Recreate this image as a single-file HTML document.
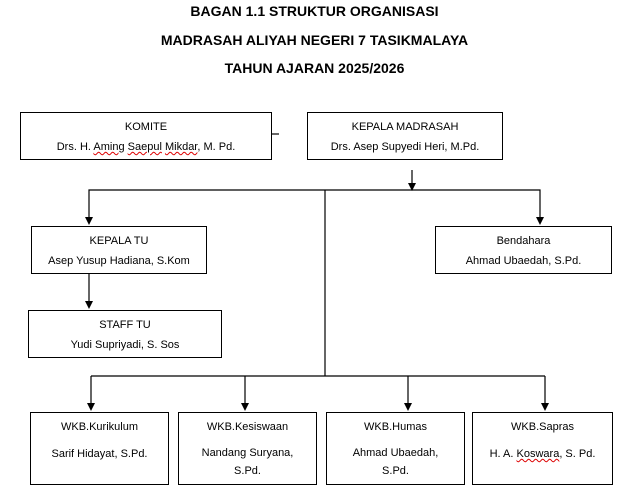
<!DOCTYPE html>
<html><head><style>
body{margin:0;width:629px;height:499px;background:#fff;position:relative;font-family:"Liberation Sans",sans-serif;overflow:hidden}
.t{position:absolute;left:0;width:629px;text-align:center;font-weight:bold;font-size:14px}
.b{position:absolute;border:1px solid #000;box-sizing:border-box;text-align:center;font-size:11px;line-height:20px;padding-top:4px}
.u{text-decoration:underline wavy #d00;text-decoration-thickness:1px}
</style></head><body>
<div class="t" style="top:3px">BAGAN 1.1 STRUKTUR ORGANISASI</div>
<div class="t" style="top:32px">MADRASAH ALIYAH NEGERI 7 TASIKMALAYA</div>
<div class="t" style="top:60px">TAHUN AJARAN 2025/2026</div>
<svg width="629" height="499" style="position:absolute;left:0;top:0">
<g stroke="#000" stroke-width="1.2" fill="none">
<line x1="272" y1="134" x2="279" y2="134"/>
<line x1="412" y1="170" x2="412" y2="184"/>
<polyline points="89,218 89,190 540,190 540,218" />
<line x1="325" y1="190" x2="325" y2="376"/>
<line x1="89" y1="274" x2="89" y2="302"/>
<polyline points="91,376 545,376"/>
<line x1="91" y1="376" x2="91" y2="404"/>
<line x1="245" y1="376" x2="245" y2="404"/>
<line x1="408" y1="376" x2="408" y2="404"/>
<line x1="545" y1="376" x2="545" y2="404"/>
</g>
<g fill="#000">
<path d="M408,183 L416,183 L412,191 z"/>
<path d="M85,217 L93,217 L89,225 z"/>
<path d="M536,217 L544,217 L540,225 z"/>
<path d="M85,301 L93,301 L89,309 z"/>
<path d="M87,403 L95,403 L91,411 z"/>
<path d="M241,403 L249,403 L245,411 z"/>
<path d="M404,403 L412,403 L408,411 z"/>
<path d="M541,403 L549,403 L545,411 z"/>
</g></svg>
<div class="b" style="left:20px;top:112px;width:252px;height:48px">KOMITE<br>Drs. H. <span class="u">Aming</span> <span class="u">Saepul</span> <span class="u">Mikdar</span>, M. Pd.</div>
<div class="b" style="left:307px;top:112px;width:196px;height:48px">KEPALA MADRASAH<br>Drs. Asep Supyedi Heri, M.Pd.</div>
<div class="b" style="left:31px;top:226px;width:176px;height:48px">KEPALA TU<br>Asep Yusup Hadiana, S.Kom</div>
<div class="b" style="left:435px;top:226px;width:177px;height:48px">Bendahara<br>Ahmad Ubaedah, S.Pd.</div>
<div class="b" style="left:28px;top:310px;width:194px;height:48px">STAFF TU<br>Yudi Supriyadi, S. Sos</div>
<div class="b" style="left:30px;top:412px;width:139px;height:73px;line-height:21px">WKB.Kurikulum<br><div style="margin-top:6px">Sarif Hidayat, S.Pd.</div></div>
<div class="b" style="left:178px;top:412px;width:139px;height:73px;line-height:21px">WKB.Kesiswaan<br><div style="margin-top:6px;line-height:18px">Nandang Suryana,<br>S.Pd.</div></div>
<div class="b" style="left:326px;top:412px;width:139px;height:73px;line-height:21px">WKB.Humas<br><div style="margin-top:6px;line-height:18px">Ahmad Ubaedah,<br>S.Pd.</div></div>
<div class="b" style="left:472px;top:412px;width:141px;height:73px;line-height:21px">WKB.Sapras<br><div style="margin-top:6px">H. A. <span class="u">Koswara</span>, S. Pd.</div></div>
</body></html>
